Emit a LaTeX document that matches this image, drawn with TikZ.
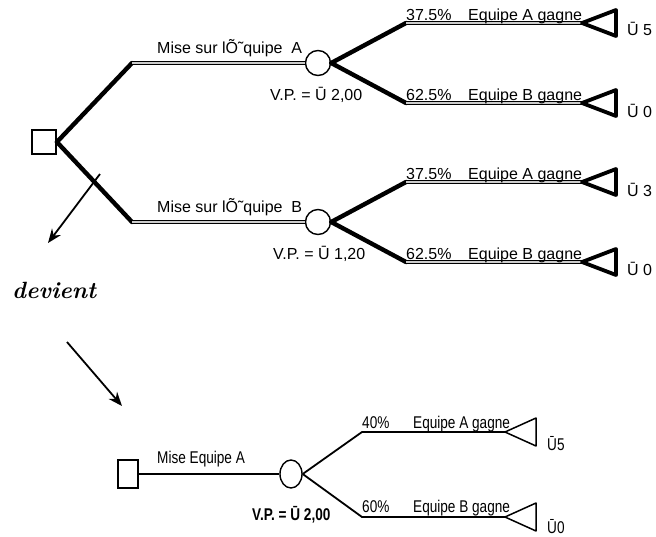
\documentclass[tikz,border=0pt]{standalone}
\usepackage{fontspec}
\newfontfamily\arialfont{Liberation Sans}
\newfontfamily\narrowfont[FakeStretch=0.8]{Liberation Sans}
\usetikzlibrary{arrows.meta,shapes.geometric}

\tikzset{
  % first tree: heavy strokes
  heavy/.style={line width=4.4pt, line cap=round},
  dbl/.style={line width=1.5pt, double=gray!40, double distance=1.1pt},
  decbox/.style={draw, line width=1.8pt, minimum size=24pt, inner sep=0pt, fill=white},
  chancebox/.style={draw, circle, line width=1.4pt, minimum size=25pt, inner sep=0pt, fill=white},
  lbl/.style={inner sep=0pt, font=\arialfont\fontsize{16}{18}\selectfont},
  % second tree: light strokes
  light/.style={line width=1.8pt},
  decsmall/.style={draw, line width=1.4pt, minimum width=20pt, minimum height=28pt, inner sep=0pt},
  chancesmall/.style={draw, ellipse, line width=1.4pt, minimum width=22pt, minimum height=28pt, inner sep=0pt},
  nlbl/.style={inner sep=0pt, font=\narrowfont\fontsize{17}{19}\selectfont},
  arr/.style={line width=1.8pt, -{Stealth[length=14pt,width=11pt]}},
  bigpay/.pic={\draw[line width=3.8pt, line join=round] (0,0) -- (34,-13) -- (34,13) -- cycle;},
  smallpay/.pic={\draw[line width=1.5pt, line join=round] (0,0) -- (31,-14) -- (31,14) -- cycle;}
}

\begin{document}
\begin{tikzpicture}[x=1pt, y=-1pt]
\useasboundingbox (0,0) rectangle (656,536);

% ---------- first tree ----------
\coordinate (kA) at (132,63);
\coordinate (kB) at (132,222);
\coordinate (kAA) at (406,23);  \coordinate (tAA) at (582,23);
\coordinate (kAB) at (406,103); \coordinate (tAB) at (582,103);
\coordinate (kBA) at (406,182); \coordinate (tBA) at (582,182);
\coordinate (kBB) at (406,262); \coordinate (tBB) at (582,262);

\node[decbox] (D) at (44,142) {};
\node[chancebox] (CA) at (318,63) {};
\node[chancebox] (CB) at (318,222) {};

\draw[heavy] (D.east) -- (kA);
\draw[heavy] (D.east) -- (kB);
\draw[dbl] (kA) -- (CA.west);
\draw[dbl] (kB) -- (CB.west);

\draw[heavy] (CA.east) -- (kAA);
\draw[heavy] (CA.east) -- (kAB);
\draw[heavy] (CB.east) -- (kBA);
\draw[heavy] (CB.east) -- (kBB);
\draw[dbl] (kAA) -- (tAA);
\draw[dbl] (kAB) -- (tAB);
\draw[dbl] (kBA) -- (tBA);
\draw[dbl] (kBB) -- (tBB);

\pic at (tAA) {bigpay};
\pic at (tAB) {bigpay};
\pic at (tBA) {bigpay};
\pic at (tBB) {bigpay};

\node[lbl, anchor=base west] (mA) at (157,53) {Mise sur lÕ˜quipe\ \ A};
\node[lbl, anchor=base west] (mB) at (157,212) {Mise sur lÕ˜quipe\ \ B};
\node[lbl, anchor=base west] (vA) at (270,100) {V.P. = Ū 2,00};
\node[lbl, anchor=base west] (vB) at (273,259) {V.P. = Ū 1,20};

\node[lbl, anchor=base west] (pAA) at (406,20) {37.5\%};
\node[lbl, anchor=base west] (eAA) at (468,20) {Equipe A gagne};
\node[lbl, anchor=base west] (pAB) at (406,100) {62.5\%};
\node[lbl, anchor=base west] (eAB) at (468,100) {Equipe B gagne};
\node[lbl, anchor=base west] (pBA) at (406,179) {37.5\%};
\node[lbl, anchor=base west] (eBA) at (468,179) {Equipe A gagne};
\node[lbl, anchor=base west] (pBB) at (406,259) {62.5\%};
\node[lbl, anchor=base west] (eBB) at (468,259) {Equipe B gagne};

\node[lbl, anchor=base west] (gAA) at (627,35) {Ū 5};
\node[lbl, anchor=base west] (gAB) at (627,117) {Ū 0};
\node[lbl, anchor=base west] (gBA) at (627,196) {Ū 3};
\node[lbl, anchor=base west] (gBB) at (627,275) {Ū 0};

% ---------- transition ----------
\coordinate (a1s) at (100,174);
\coordinate (a1e) at (48,243);
\draw[arr] (a1s) -- (a1e);

\node[inner sep=0pt, anchor=base west, font=\fontsize{23.5}{26}\selectfont\bfseries\itshape] (dv) at (12,298) {devient};

\coordinate (a2s) at (67,342);
\coordinate (a2e) at (122,406);
\draw[arr] (a2s) -- (a2e);

% ---------- second tree ----------
\node[decsmall] (D2) at (128,474) {};
\node[chancesmall] (C2) at (291,474) {};
\coordinate (k2A) at (362,432); \coordinate (t2A) at (505,432);
\coordinate (k2B) at (362,517); \coordinate (t2B) at (505,517);

\draw[light] (D2.east) -- (C2.west);
\draw[light] (C2.east) -- (k2A) -- (t2A);
\draw[light] (C2.east) -- (k2B) -- (t2B);
\pic at (t2A) {smallpay};
\pic at (t2B) {smallpay};

\node[nlbl, anchor=base west] (m2) at (157,463) {Mise Equipe A};
\node[nlbl, anchor=base west, font=\narrowfont\fontsize{17}{19}\selectfont\bfseries] (v2) at (252,520) {V.P. = Ū 2,00};
\node[nlbl, anchor=base west] (p2A) at (362,428) {40\%};
\node[nlbl, anchor=base west] (e2A) at (413,428) {Equipe A gagne};
\node[nlbl, anchor=base west] (p2B) at (362,512) {60\%};
\node[nlbl, anchor=base west] (e2B) at (413,512) {Equipe B gagne};
\node[nlbl, anchor=base west] (g2A) at (547,450) {Ū5};
\node[nlbl, anchor=base west] (g2B) at (547,533) {Ū0};
\end{tikzpicture}
\end{document}
